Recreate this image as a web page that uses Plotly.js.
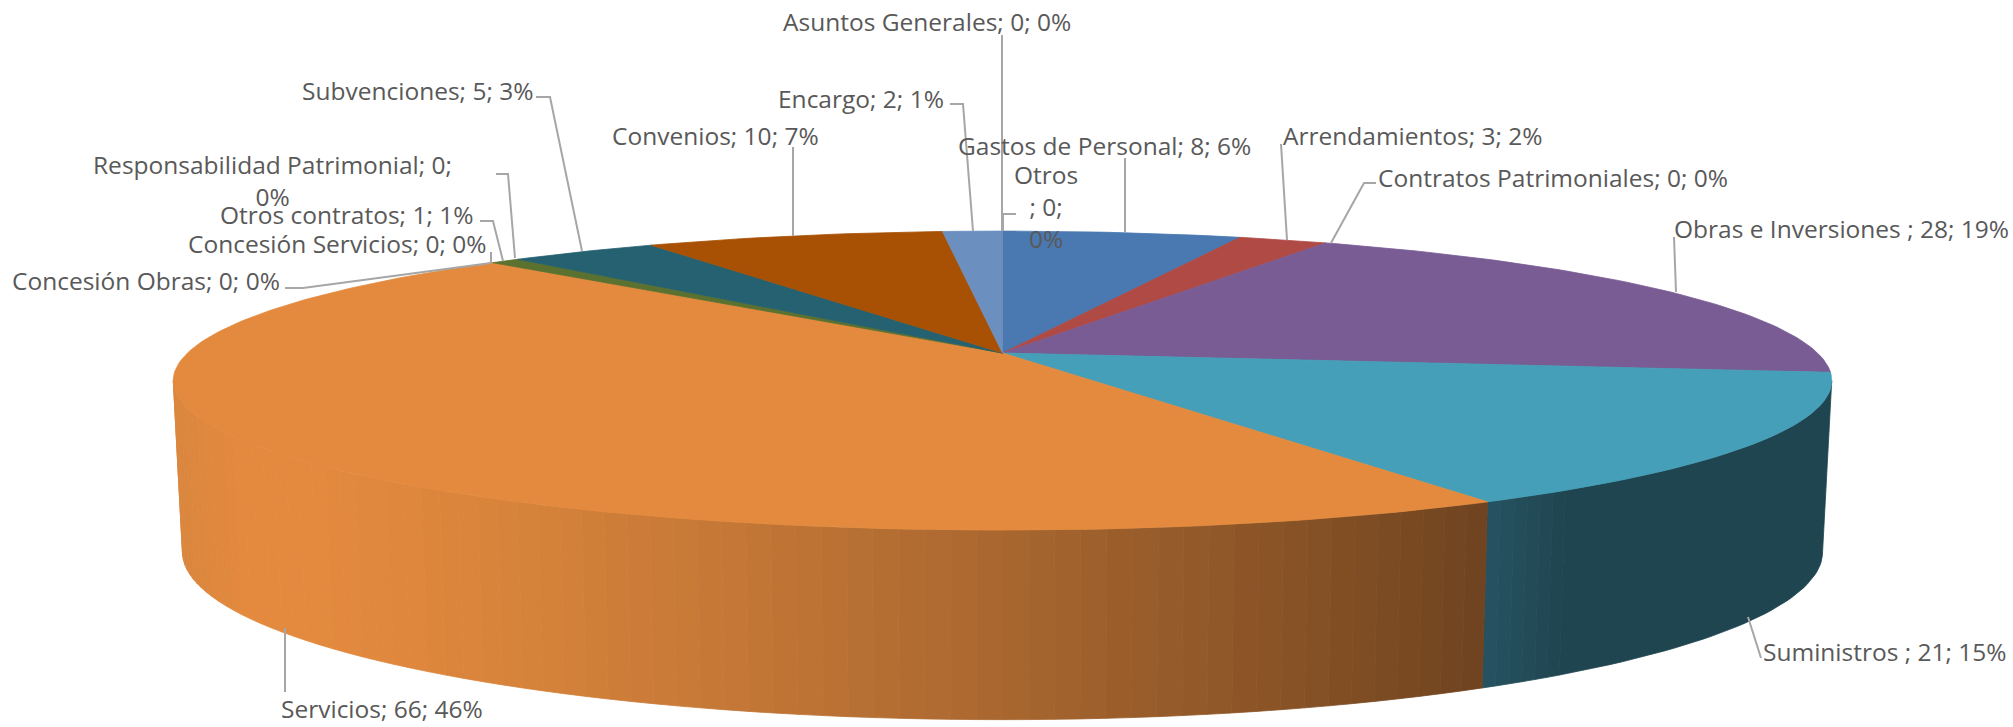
<!DOCTYPE html>
<html>
<head>
<meta charset="utf-8">
<script src="https://cdn.plot.ly/plotly-3.0.1.min.js"></script>
<style>html,body{margin:0;padding:0;background:#fff;overflow:hidden}</style>
</head>
<body>
<div id="chart" style="width:2013px;height:727px"></div>
<script>
// ---- data ----
const categories = ["Gastos de Personal","Arrendamientos","Contratos Patrimoniales","Obras e Inversiones ","Suministros ","Servicios","Concesión Obras","Concesión Servicios","Otros contratos","Responsabilidad Patrimonial","Subvenciones","Convenios","Encargo","Otros","Asuntos Generales"];
const values   = [8,3,0,28,21,66,0,0,1,0,5,10,2,0,0];
const percents = [6,2,0,19,15,46,0,0,1,0,3,7,1,0,0];
const topColors = ["#4a78b0","#b04a45","#9bbb59","#785c93","#459fb8","#e38a3e","#4bacc6","#f79646","#5b7130","#2c4d75","#256170","#a85003","#6b8fbf","#c0504d","#8064a2"];

// ---- label layout (pixels of the page) ----
const labelX   = [1104,1413,1553,1841,1885,382,146,337,346,272,417,715,861,1046,927];
const labelY   = [145,135,177,228,651,708,280,243,214,180,90,135,98,206,21];
const labelSize= [24.5,24.5,24.5,24.5,24.5,24.5,24.5,24.5,24.5,24.5,24.5,24.5,24.5,24.5,24.5];
const leaderX  = [[1125,1125],[1281,1287],[1376,1364,1331],[1674,1676],[1761,1748],[285,285],[285,303,491],[491,491],[480,493,503],[496,508,515],[536,550,582],[793,793],[950,963,973],[1016,1003,1003],[1002,1002]];
const leaderY  = [[158,232],[144,240],[183,183,243],[237,292],[658,617],[692,628],[288,288,263],[252,263],[221,221,261],[174,174,258],[97,97,251],[147,236],[104,104,231],[214,214,231],[35,231]];

// ---- pie projection ----
const CX = 1002.5, K = 0.1845;
const TOP = {R:815, H:144.4, Y:353};
const BOT = {R:806, H:162, Y:521};
function project(deg, p){
  const t = deg*Math.PI/180, u = Math.sin(t), v = Math.cos(t), w = 1+K*v;
  return [CX + p.R*u/w, p.Y - p.H*v/w];
}
const total = values.reduce((a,b)=>a+b,0);
const traces = [];
function poly(xs,ys,color){
  traces.push({type:'scatter',mode:'lines',x:xs,y:ys,fill:'toself',fillcolor:color,
    line:{color:color,width:0.8},hoverinfo:'skip',showlegend:false});
}
function mix(a,b,t){
  return 'rgb('+a.map((c,i)=>Math.round(c+(b[i]-c)*t)).join(',')+')';
}
function band(from,to,n,color){
  const xs=[],ys=[];
  for(let j=0;j<=n;j++){const p=project(from+(to-from)*j/n,TOP);xs.push(p[0]);ys.push(p[1]);}
  for(let j=n;j>=0;j--){const p=project(from+(to-from)*j/n,BOT);xs.push(p[0]);ys.push(p[1]);}
  xs.push(xs[0]);ys.push(ys[0]);
  poly(xs,ys,color);
}
// walls
const rightEdge = Math.acos(-K)*180/Math.PI, leftEdge = 360-rightEdge;
const suministrosEnd = (values.slice(0,5).reduce((a,b)=>a+b,0))/total*360;
const TEAL_DARK=[31,69,80], TEAL_LIGHT=[37,82,97];
const FADE=6;
band(rightEdge,suministrosEnd-FADE,40,mix(TEAL_DARK,TEAL_DARK,0));
for(let i=0;i<6;i++){
  const a=suministrosEnd-FADE+i, b=a+1;
  band(a,b,2,mix(TEAL_DARK,TEAL_LIGHT,(i+0.5)/6));
}
const STEP=1.5;
for(let d=suministrosEnd;d<leftEdge-1e-6;d+=STEP){
  const e=Math.min(d+STEP,leftEdge);
  const topX=project((d+e)/2,TOP)[0];
  let col;
  if(topX<240) col=mix([227,138,62],[219,134,62],Math.min(1,(240-topX)/60));
  else{
    const t=Math.max(0,Math.min(1,(topX-300)/(1481-300)));
    col=mix([227,138,62],[112,68,32],Math.pow(t,1.3));
  }
  band(d,e,1,col);
}
// top face
let acc=0;
values.forEach((val,i)=>{
  const from=acc/total*360; acc+=val;
  const to=acc/total*360;
  if(val<=0) return;
  const xs=[CX],ys=[TOP.Y];
  const n=Math.max(2,Math.ceil(to-from));
  for(let j=0;j<=n;j++){
    const p=project(from+(to-from)*j/n,TOP);
    xs.push(p[0]);ys.push(p[1]);
  }
  xs.push(CX);ys.push(TOP.Y);
  poly(xs,ys,topColors[i]);
});
// leaders
categories.forEach((c,i)=>{
  traces.push({type:'scatter',mode:'lines',x:leaderX[i],y:leaderY[i],
    line:{color:'#a6a6a6',width:2},hoverinfo:'skip',showlegend:false});
});
// labels
const annotations = categories.map((c,i)=>{
  let txt = c+'; '+values[i]+'; '+percents[i]+'%';
  if(c==='Responsabilidad Patrimonial') txt = c+'; '+values[i]+';<br>'+percents[i]+'%';
  if(c==='Otros') txt = c+'<br>; '+values[i]+';<br>'+percents[i]+'%';
  return {x:labelX[i],y:labelY[i],text:txt,showarrow:false,xanchor:'center',yanchor:'middle',align:'center',
    font:{family:'"Open Sans", sans-serif',size:labelSize[i],color:'#595959'}};
});
Plotly.newPlot('chart',traces,{
  width:2013,height:727,margin:{l:0,r:0,t:0,b:0},paper_bgcolor:'#fff',plot_bgcolor:'#fff',
  xaxis:{range:[0,2013],visible:false,fixedrange:true},
  yaxis:{range:[727,0],visible:false,fixedrange:true},
  annotations:annotations,showlegend:false
},{displayModeBar:false,staticPlot:true});
</script>
</body>
</html>
